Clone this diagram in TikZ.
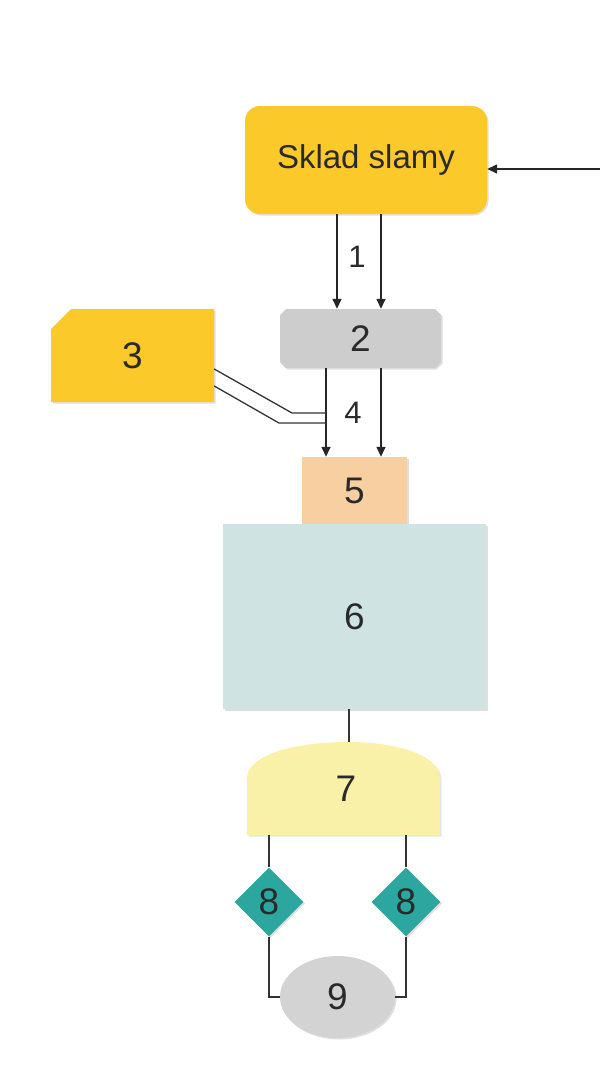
\documentclass[tikz,border=0pt]{standalone}
\usepackage{fontspec}
\setmainfont{Liberation Sans}
\usetikzlibrary{shapes.geometric,shapes.misc,arrows.meta,shadows}
\definecolor{gold}{HTML}{FCC92B}
\definecolor{gry}{HTML}{CDCDCD}
\definecolor{peach}{HTML}{F8CFA0}
\definecolor{lteal}{HTML}{CFE3E2}
\definecolor{pyel}{HTML}{FAF1A8}
\definecolor{teal8}{HTML}{2BA79F}
\definecolor{ell}{HTML}{D3D3D3}
\definecolor{txt}{HTML}{2A2A2A}
\tikzset{
  box/.style={inner sep=0pt, text=txt, font=\fontsize{37}{40}\selectfont,
    drop shadow={shadow xshift=1.5pt, shadow yshift=-1.5pt, opacity=0.25}},
  arr/.style={line width=1.5pt, draw=black!85, -{Triangle[length=10pt,width=9pt]}},
  ln/.style={line width=1.5pt, draw=black!80},
  lbl/.style={text=txt, font=\fontsize{31}{34}\selectfont, inner sep=0pt}
}
\begin{document}
\begin{tikzpicture}[x=1pt,y=-1pt]
\useasboundingbox (0,0) rectangle (600,1079);
% nodes
\node[box, fill=gold, rounded corners=15pt, minimum width=242pt, minimum height=108pt,
  font=\fontsize{33}{38}\selectfont] (sk) at (366,160) {Sklad slamy};
\node[box, fill=gry, chamfered rectangle, chamfered rectangle xsep=3pt, chamfered rectangle ysep=3pt,
  chamfered rectangle corners={north east,north west,south east,south west},
  minimum width=161pt, minimum height=59pt] (n2) at (360.5,338.5) {2};
\node[box, fill=gold, chamfered rectangle, chamfered rectangle xsep=10pt, chamfered rectangle ysep=10pt,
  chamfered rectangle corners=north west,
  minimum width=163pt, minimum height=93pt] (n3) at (132.5,355.5) {3};
\node[box, fill=peach, minimum width=105pt, minimum height=67pt] (n5) at (354.5,490.5) {5};
\node[box, fill=lteal, minimum width=263pt, minimum height=185pt] (n6) at (354.5,616.5) {6};
% shape 7
\fill[pyel, drop shadow={shadow xshift=1.5pt, shadow yshift=-1.5pt, opacity=0.2}]
  (247,835) -- (247,778) .. controls (247,756) and (292,742) .. (348,742)
  .. controls (404,742) and (440,758) .. (440,778) -- (440,835) -- cycle;
\node[lbl, font=\fontsize{37}{40}\selectfont, minimum width=193pt, minimum height=93pt] (n7) at (346,788.5) {7};
\coordinate (t7) at (349,742);
\node[box, diamond, fill=teal8, minimum width=69pt, minimum height=69pt] (d1) at (269,902) {8};
\node[box, diamond, fill=teal8, minimum width=69pt, minimum height=69pt] (d2) at (406,902) {8};
\node[box, ellipse, fill=ell, minimum width=115pt, minimum height=82pt, drop shadow={opacity=0}] (n9) at (337.5,997) {9};
% labels
\node[lbl] (l1) at (357,257) {1};
\node[lbl] (l4) at (353,413) {4};
% connectors
\coordinate (in) at (600,169);
\draw[arr] (in) -- (in -| sk.east);
\draw[arr] ([xshift=-29pt]sk.south) -- ([xshift=-29pt]sk.south |- n2.north);
\draw[arr] ([xshift=15pt]sk.south) -- ([xshift=15pt]sk.south |- n2.north);
\draw[arr] ([xshift=-34.5pt]n2.south) -- ([xshift=-34.5pt]n2.south |- n5.north);
\draw[arr] ([xshift=20.5pt]n2.south) -- ([xshift=20.5pt]n2.south |- n5.north);
\coordinate (j1) at (326,413);
\coordinate (j2) at (326,423);
\draw[ln, line width=1.3pt] ([yshift=-13.5pt]n3.east) -- (292,413) -- (j1);
\draw[ln, line width=1.3pt] ([yshift=-30.5pt]n3.east) -- (279,423) -- (j2);
\draw[ln] (n6.south -| t7) -- (t7);
\draw[ln] (n7.south -| d1.north) -- (d1.north);
\draw[ln] (n7.south -| d2.north) -- (d2.north);
\draw[ln] (d1.south) |- (n9.west);
\draw[ln] (d2.south) |- (n9.east);
\end{tikzpicture}
\end{document}
